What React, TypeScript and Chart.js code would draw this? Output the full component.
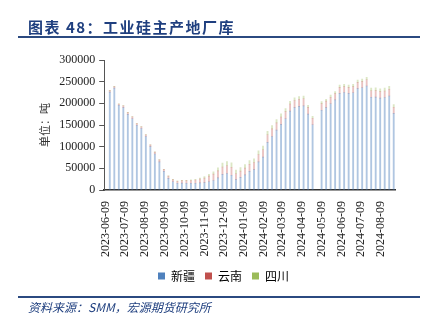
import React, { useEffect, useRef } from 'react';
import { Chart, registerables } from 'chart.js';

Chart.register(...registerables);

// weekly observation dates (2024-05-02 missing)
const dates = [
  '2023-06-15', '2023-06-22', '2023-06-29', '2023-07-06', '2023-07-13', '2023-07-20', '2023-07-27',
  '2023-08-03', '2023-08-10', '2023-08-17', '2023-08-24', '2023-08-31', '2023-09-07', '2023-09-14',
  '2023-09-21', '2023-09-28', '2023-10-05', '2023-10-12', '2023-10-19', '2023-10-26', '2023-11-02',
  '2023-11-09', '2023-11-16', '2023-11-23', '2023-11-30', '2023-12-07', '2023-12-14', '2023-12-21',
  '2023-12-28', '2024-01-04', '2024-01-11', '2024-01-18', '2024-01-25', '2024-02-01', '2024-02-08',
  '2024-02-15', '2024-02-22', '2024-02-29', '2024-03-07', '2024-03-14', '2024-03-21', '2024-03-28',
  '2024-04-04', '2024-04-11', '2024-04-18', '2024-04-25', '2024-05-09', '2024-05-16', '2024-05-23',
  '2024-05-30', '2024-06-06', '2024-06-13', '2024-06-20', '2024-06-27', '2024-07-04', '2024-07-11',
  '2024-07-18', '2024-07-25', '2024-08-01', '2024-08-08', '2024-08-15', '2024-08-22', '2024-08-29',
];

const xinjiang = [
  226000, 235000, 195500, 190000, 174500, 164500, 149500, 142000, 123500, 100000, 83000, 65000, 43000, 27000,
  19000, 15500, 16000, 15500, 15500, 15500, 16500, 17000, 19000, 22000, 28000, 36000, 38000, 34000,
  24000, 29000, 35000, 43000, 47000, 65000, 76000, 110000, 123500, 138000, 151500, 164500, 182000, 190000,
  193000, 194000, 175000, 150500, 184000, 190000, 199000, 208000, 223000, 225000, 223000, 224500, 234000,
  236000, 240000, 214000, 214500, 212000, 213500, 217000, 177000,
];

const yunnan = [
  3500, 3500, 3000, 4500, 4000, 4500, 4000, 4000, 4000, 4000, 4500, 4500, 4500, 5000,
  5000, 4800, 5500, 6000, 6500, 7500, 9000, 10500, 13000, 14500, 16000, 17000, 18000, 18500,
  13500, 14500, 15500, 16500, 16500, 17000, 17000, 17500, 17500, 17000, 17000, 16500, 16500, 16500,
  16500, 16500, 15500, 15000, 15500, 15000, 15000, 14500, 14000, 13500, 14000, 14000, 14500,
  14500, 14500, 15000, 15000, 15000, 15000, 15500, 14000,
];

const sichuan = [
  500, 500, 500, 500, 500, 500, 500, 500, 500, 500, 500, 500, 500, 500,
  700, 600, 900, 900, 1200, 1700, 2300, 3400, 4300, 5300, 7000, 8900, 9700, 10100,
  8200, 8300, 8300, 8500, 8400, 8500, 8300, 7800, 7500, 7400, 7100, 6900, 6400, 6200,
  6300, 6000, 5100, 4600, 4700, 4500, 4800, 4900, 5000, 5100, 5000, 5100, 5100,
  5500, 5300, 6100, 6400, 6600, 6500, 6500, 6200,
];

const seriesNames = ['新疆', '云南', '四川'];

const tickDates = [
  '2023-06-09', '2023-07-09', '2023-08-09', '2023-09-09', '2023-10-09', '2023-11-09', '2023-12-09',
  '2024-01-09', '2024-02-09', '2024-03-09', '2024-04-09', '2024-05-09', '2024-06-09', '2024-07-09',
  '2024-08-09',
];

const BASE = Date.parse('2023-06-09T00:00:00Z');
const dayOf = (s: string) => Math.round((Date.parse(s + 'T00:00:00Z') - BASE) / 86400000);

const SERIF = "'Liberation Serif', 'Times New Roman', 'Noto Sans CJK SC', serif";
const CJK = "'Noto Sans CJK SC', 'Liberation Serif', sans-serif";

const solid = ['#4F81BD', '#C0504D', '#9BBB59'];
const faded = ['rgba(79,129,189,0.45)', 'rgba(192,80,77,0.35)', 'rgba(155,187,89,0.35)'];

export default function App() {
  const ref = useRef<HTMLCanvasElement | null>(null);

  useEffect(() => {
    if (!ref.current) return;
    const values = [xinjiang, yunnan, sichuan];
    const tickDays = tickDates.map(dayOf);
    const tickLabelMap: Record<number, string> = {};
    tickDates.forEach((d) => { tickLabelMap[dayOf(d)] = d; });

    const shiftLegend = {
      id: 'shiftLegend',
      afterLayout(chart: any) {
        const l = chart.legend;
        if (l) { l.left += 8; l.right += 8; }
      },
    };

    const chart = new Chart(ref.current, {
      type: 'bar',
      data: {
        datasets: values.map((arr, k) => ({
          label: seriesNames[k],
          data: arr.map((v, i) => ({ x: dayOf(dates[i]), y: v })),
          backgroundColor: faded[k],
          borderWidth: 0,
          barThickness: 1.2,
        })),
      },
      plugins: [shiftLegend],
      options: {
        animation: false,
        responsive: false,
        devicePixelRatio: 1,
        layout: { padding: { left: 36, right: 32, top: 60, bottom: 31 } },
        plugins: {
          tooltip: { enabled: false },
          legend: {
            position: 'bottom',
            labels: {
              boxWidth: 7,
              boxHeight: 7,
              padding: 10,
              color: '#333',
              font: { family: CJK, size: 12 },
              generateLabels: (c: any) =>
                c.data.datasets.map((ds: any, k: number) => ({
                  text: ds.label,
                  fillStyle: solid[k],
                  strokeStyle: solid[k],
                  lineWidth: 0,
                  hidden: false,
                  datasetIndex: k,
                })),
            },
          },
        },
        scales: {
          x: {
            type: 'linear',
            min: -2.7,
            max: 449,
            stacked: true,
            offset: false,
            grid: { display: false },
            border: { display: true, color: '#333', width: 1.5 },
            afterBuildTicks: (axis: any) => {
              axis.ticks = tickDays.map((v) => ({ value: v }));
            },
            ticks: {
              autoSkip: false,
              maxRotation: 90,
              minRotation: 90,
              padding: 3,
              color: '#222',
              font: { family: SERIF, size: 12 },
              callback: (v: any) => tickLabelMap[Math.round(Number(v))] ?? '',
            },
          },
          y: {
            stacked: true,
            min: 0,
            max: 300000,
            grid: { drawOnChartArea: false, drawTicks: true, tickLength: 5, color: '#555' },
            border: { display: true, color: '#555', width: 1 },
            ticks: {
              stepSize: 50000,
              padding: 4,
              color: '#222',
              font: { family: SERIF, size: 12 },
              callback: (v: any) => String(v),
            },
            title: {
              display: true,
              text: '单位：吨',
              color: '#333',
              font: { family: CJK, size: 11 },
              padding: { top: 2, bottom: 4 },
            },
          },
        },
      },
    });
    return () => chart.destroy();
  }, []);

  return (
    <div style={{ position: 'absolute', left: 0, top: 0, width: 427, height: 323, background: '#fff', overflow: 'hidden' }}>
      <canvas ref={ref} width={427} height={323} style={{ position: 'absolute', left: 0, top: 0, width: 427, height: 323 }} />
      <div
        style={{
          position: 'absolute', left: 28, top: 16, lineHeight: '16px', whiteSpace: 'nowrap',
          font: "bold 15px 'Noto Sans CJK SC', sans-serif", color: '#1F3F7F', letterSpacing: '1.5px',
        }}
      >
        图表 48：工业硅主产地厂库
      </div>
      <div style={{ position: 'absolute', left: 18, top: 36, width: 402, height: 2, background: '#2B4A80' }} />
      <div style={{ position: 'absolute', left: 18, top: 296, width: 402, height: 1.5, background: '#2B4A80' }} />
      <div
        style={{
          position: 'absolute', left: 28, top: 298, lineHeight: '14px', whiteSpace: 'nowrap',
          font: "italic 12px 'Noto Sans CJK SC', serif", color: '#1F3F7F',
        }}
      >
        资料来源：SMM，宏源期货研究所
      </div>
    </div>
  );
}
